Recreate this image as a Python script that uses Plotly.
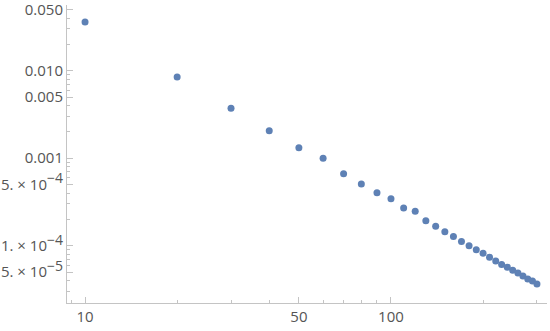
import plotly.graph_objects as go

# data
n_vals = [10, 20, 30, 40, 50, 60, 70, 80, 90, 100,
          110, 120, 130, 140, 150, 160, 170, 180, 190, 200,
          210, 220, 230, 240, 250, 260, 270, 280, 290, 300]
err_vals = [0.0360, 0.00847, 0.00372, 0.00206, 0.00132, 0.00100, 0.000666, 0.000507, 0.000404, 0.000344,
            0.000270, 0.000247, 0.000193, 0.000167, 0.000144, 0.000127, 0.000112, 0.000100, 0.0000900, 0.0000820,
            0.0000740, 0.0000670, 0.0000610, 0.0000566, 0.0000523, 0.0000488, 0.0000450, 0.0000416, 0.0000395, 0.0000365]

x_ticks = [10, 50, 100]
x_labels = ["10", "50", "100"]
x_minor = [9, 20, 30, 40, 60, 70, 80, 90, 200, 300]

y_ticks = [0.05, 0.01, 0.005, 0.001, 0.0005, 0.0001, 0.00005]
y_labels = ["0.050", "0.010", "0.005", "0.001",
            "5. × 10<sup><span style='font-size:14px'>−4</span></sup>",
            "1. × 10<sup><span style='font-size:14px'>−4</span></sup>",
            "5. × 10<sup><span style='font-size:14px'>−5</span></sup>"]
y_minor = [m * 10.0 ** e for e in range(-5, -1) for m in (2, 3, 4, 6, 7, 8, 9)]

axis_col = "#c4c4c4"
txt_col = "#555555"

fig = go.Figure()
fig.add_trace(go.Scatter(x=n_vals, y=err_vals, mode="markers",
                         marker=dict(color="#5E81B5", size=7), showlegend=False))

fig.update_layout(
    width=550, height=331,
    margin=dict(l=67, r=3, t=5, b=28),
    paper_bgcolor="white", plot_bgcolor="white",
    font=dict(family="Open Sans, Liberation Sans, sans-serif", size=15, color=txt_col),
    xaxis=dict(type="log", range=[0.941, 2.51], automargin=False, ticklabeloverflow="allow",
               tickvals=x_ticks, ticktext=x_labels,
               ticks="inside", ticklen=6, tickcolor=axis_col,
               showgrid=False, zeroline=False,
               showline=True, linecolor=axis_col, linewidth=1,
               minor=dict(tickvals=x_minor, ticks="inside", ticklen=3, tickcolor=axis_col, showgrid=False)),
    yaxis=dict(type="log", range=[-4.655, -1.249], automargin=False, ticklabeloverflow="allow",
               tickvals=y_ticks, ticktext=y_labels,
               ticks="inside", ticklen=6, tickcolor=axis_col,
               showgrid=False, zeroline=False,
               showline=True, linecolor=axis_col, linewidth=1,
               minor=dict(tickvals=y_minor, ticks="inside", ticklen=3, tickcolor=axis_col, showgrid=False)),
)

fig.write_html("out.html", config={"displayModeBar": False},
               post_script="document.body.style.margin='0';")
